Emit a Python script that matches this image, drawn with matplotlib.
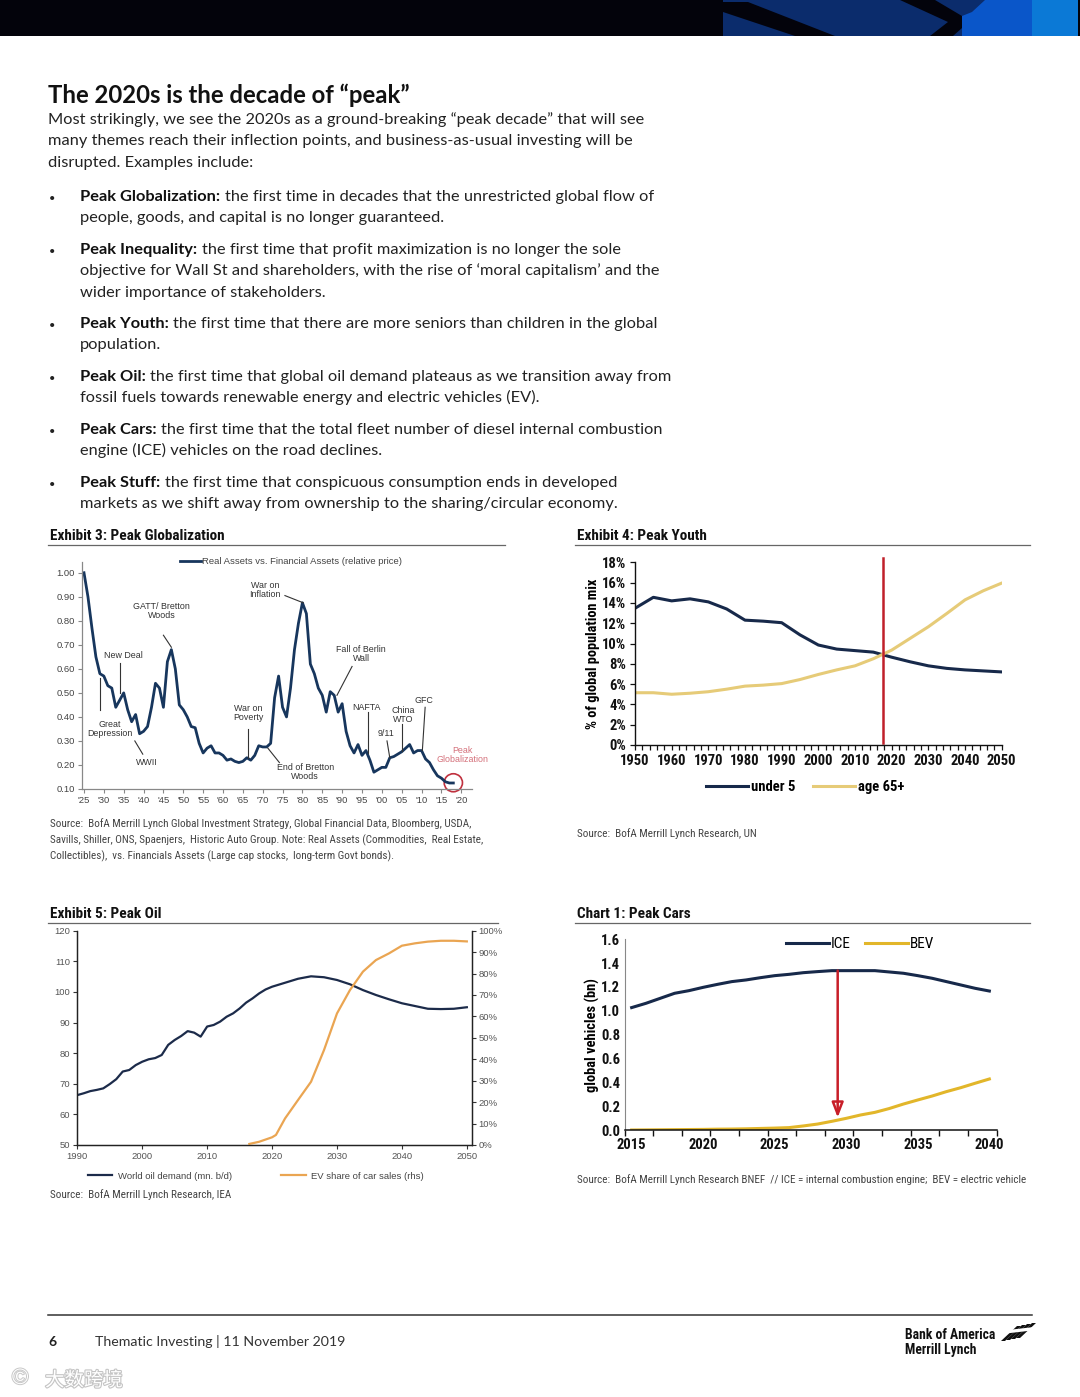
import numpy as np
import matplotlib
matplotlib.use("Agg")
import matplotlib.pyplot as plt
from matplotlib.patches import Polygon, Rectangle, Ellipse
import matplotlib.patheffects as pe

W, H = 1080, 1397

# ---------------- data ----------------
glob_years = list(range(1925, 2019))
glob_vals = [1.00, 0.90, 0.77, 0.65, 0.58, 0.57, 0.53, 0.52, 0.44, 0.47,
             0.50, 0.43, 0.38, 0.41, 0.33, 0.34, 0.36, 0.44, 0.54, 0.52,
             0.44, 0.63, 0.68, 0.60, 0.45, 0.43, 0.40, 0.36, 0.355, 0.29,
             0.25, 0.27, 0.28, 0.25, 0.25, 0.24, 0.22, 0.225, 0.215, 0.21,
             0.215, 0.23, 0.22, 0.24, 0.28, 0.275, 0.275, 0.29, 0.48, 0.57,
             0.44, 0.40, 0.52, 0.68, 0.79, 0.875, 0.83, 0.62, 0.58, 0.52,
             0.49, 0.42, 0.505, 0.49, 0.42, 0.455, 0.34, 0.28, 0.25, 0.285,
             0.24, 0.26, 0.22, 0.17, 0.18, 0.19, 0.19, 0.23, 0.235, 0.245,
             0.255, 0.27, 0.285, 0.25, 0.26, 0.26, 0.225, 0.21, 0.18, 0.155,
             0.145, 0.13, 0.125, 0.125]

youth_years = list(range(1950, 2051, 5))
under5 = [13.47, 14.55, 14.2, 14.4, 14.1, 13.4, 12.3, 12.2, 12.05, 10.85, 9.85,
          9.45, 9.3, 9.15, 8.65, 8.2, 7.8, 7.55, 7.4, 7.3, 7.2]
age65 = [5.15, 5.15, 5.0, 5.1, 5.25, 5.5, 5.8, 5.9, 6.05, 6.45, 6.95,
         7.4, 7.8, 8.5, 9.35, 10.5, 11.65, 12.95, 14.3, 15.2, 15.95]
peak_youth_year = 2017.7

oil_years = list(range(1990, 2021)) + list(range(2022, 2051, 2))
oil_demand = [66.3, 66.9, 67.6, 68.0, 68.5, 69.9, 71.5, 74.0, 74.5, 76.1,
              77.2, 78.0, 78.4, 79.4, 82.7, 84.3, 85.6, 87.2, 86.7, 85.4,
              88.7, 89.2, 90.3, 91.9, 93.0, 94.6, 96.5, 97.9, 99.5, 100.8, 101.7,
              103.0, 104.3, 105.1, 104.8, 103.9, 102.5, 100.6, 99.0, 97.6, 96.3,
              95.4, 94.5, 94.4, 94.5, 95.0]
ev_years = [2016.5, 2018, 2020, 2020.6, 2022, 2024, 2026, 2028, 2030, 2032,
            2034, 2036, 2038, 2040, 2042, 2044, 2046, 2048, 2050]
ev_share = [0.5, 1.5, 3.6, 4.7, 12.4, 21, 29.5, 44.3, 61.4, 72.3,
            80.9, 86.3, 89.4, 93.0, 94.1, 94.9, 95.3, 95.3, 95.0]

car_years = list(range(2015, 2041))
ice = [1.027, 1.063, 1.105, 1.147, 1.169, 1.197, 1.222, 1.245, 1.259, 1.278,
       1.295, 1.306, 1.320, 1.329, 1.337, 1.337, 1.337, 1.337, 1.326, 1.315,
       1.295, 1.273, 1.245, 1.217, 1.189, 1.166]
bev = [0.0, 0.001, 0.002, 0.003, 0.004, 0.005, 0.007, 0.008, 0.010, 0.013,
       0.016, 0.02, 0.034, 0.05, 0.073, 0.098, 0.126, 0.148, 0.18, 0.218,
       0.252, 0.285, 0.322, 0.355, 0.392, 0.428]
peak_car_year = 2029.4

NARROW = ["Liberation Sans Narrow", "DejaVu Sans Condensed", "Roboto Condensed", "Lato", "DejaVu Sans"]
BODY = ["Lato", "DejaVu Sans"]
ARIAL = ["Liberation Sans", "DejaVu Sans"]

fig = plt.figure(figsize=(W / 100, H / 100), dpi=100)
fig.patch.set_facecolor("white")

# page-level drawing axes in pixel coords
bg = fig.add_axes([0, 0, 1, 1])
bg.set_xlim(0, W)
bg.set_ylim(H, 0)
bg.axis("off")


def ptext(x, y, s, **kw):
    return bg.text(x, y, s, **kw)


# header band
bg.add_patch(Rectangle((0, 0), W, 36, color="#03030b", lw=0))
bg.add_patch(Rectangle((723, 0), 240, 36, color="#0b2c6c", lw=0))
bg.add_patch(Polygon([(723, 2), (748, 2), (835, 36), (795, 36), (723, 12)], color="#03030b", lw=0))
bg.add_patch(Polygon([(900, 0), (935, 0), (962, 16), (962, 28), (953, 36), (930, 36), (948, 22)], color="#03030b", lw=0))
bg.add_patch(Rectangle((962, 0), 70, 36, color="#0a56c9", lw=0))
bg.add_patch(Polygon([(962, 0), (985, 0), (972, 12), (962, 16)], color="#0b2c6c", lw=0))
bg.add_patch(Rectangle((1032, 0), 46, 36, color="#0b79d6", lw=0))

# title and body
BFS = 11.8
ptext(48, 103, "The 2020s is the decade of \u201cpeak\u201d", fontsize=17.2, fontweight="bold",
      family=BODY, color="#111111", va="baseline")
para = ["Most strikingly, we see the 2020s as a ground-breaking \u201cpeak decade\u201d that will see",
        "many themes reach their inflection points, and business-as-usual investing will be",
        "disrupted. Examples include:"]
for i, line in enumerate(para):
    ptext(48, 124 + i * 21.3, line, fontsize=BFS, family=BODY, color="#222222", va="baseline")

bullets = [
    ("Peak Globalization:", ["the first time in decades that the unrestricted global flow of",
                             "people, goods, and capital is no longer guaranteed."], 201),
    ("Peak Inequality:", ["the first time that profit maximization is no longer the sole",
                          "objective for Wall St and shareholders, with the rise of \u2018moral capitalism\u2019 and the",
                          "wider importance of stakeholders."], 254),
    ("Peak Youth:", ["the first time that there are more seniors than children in the global",
                     "population."], 328),
    ("Peak Oil:", ["the first time that global oil demand plateaus as we transition away from",
                   "fossil fuels towards renewable energy and electric vehicles (EV)."], 381),
    ("Peak Cars:", ["the first time that the total fleet number of diesel internal combustion",
                    "engine (ICE) vehicles on the road declines."], 434),
    ("Peak Stuff:", ["the first time that conspicuous consumption ends in developed",
                     "markets as we shift away from ownership to the sharing/circular economy."], 487),
]
for head, lines, y0 in bullets:
    ptext(49, y0 + 1, "\u2022", fontsize=8, family=BODY, color="#222222", va="baseline")
    b = ptext(80, y0, head, fontsize=BFS, fontweight="bold", family=BODY, color="#111111", va="baseline")
    bg.annotate(lines[0], xy=(1, 0), xycoords=b, xytext=(3.2, 0), textcoords="offset points",
                fontsize=BFS, family=BODY, color="#222222", va="bottom", ha="left")
    for j, line in enumerate(lines[1:]):
        ptext(80, y0 + (j + 1) * 21.3, line, fontsize=BFS, family=BODY, color="#222222", va="baseline")

# exhibit headers
for x0, x1, y, label in [(48, 505, 540, "Exhibit 3: Peak Globalization"),
                         (575, 1030, 540, "Exhibit 4: Peak Youth"),
                         (48, 498, 918, "Exhibit 5: Peak Oil"),
                         (575, 1030, 918, "Chart 1: Peak Cars")]:
    ptext(x0 + 2, y, label, fontsize=11, fontweight="bold", family=NARROW, color="#111111", va="baseline")
    bg.plot([x0, x1], [y + 4.5, y + 4.5], color="#666666", lw=0.9)

SRC = dict(fontsize=8.0, family=NARROW, color="#444444", va="baseline")
ptext(50, 827, "Source:  BofA Merrill Lynch Global Investment Strategy, Global Financial Data, Bloomberg, USDA,", **SRC)
ptext(50, 843, "Savills, Shiller, ONS, Spaenjers,  Historic Auto Group. Note: Real Assets (Commodities,  Real Estate,", **SRC)
ptext(50, 859, "Collectibles),  vs. Financials Assets (Large cap stocks,  long-term Govt bonds).", **SRC)
ptext(577, 837, "Source:  BofA Merrill Lynch Research, UN", **SRC)
ptext(50, 1198, "Source:  BofA Merrill Lynch Research, IEA", **SRC)
ptext(577, 1183, "Source:  BofA Merrill Lynch Research BNEF  // ICE = internal combustion engine;  BEV = electric vehicle", **SRC)

# footer
bg.plot([48, 1032], [1315, 1315], color="#333333", lw=1.1)
ptext(48, 1346, "6", fontsize=10, fontweight="bold", family=BODY, color="#222222", va="baseline")
ptext(95, 1346, "Thematic Investing | 11 November 2019", fontsize=10.2, family=BODY, color="#333333", va="baseline")
ptext(905, 1339, "Bank of America", fontsize=9.8, fontweight="bold", family=NARROW, color="#111111", va="baseline")
ptext(905, 1354, "Merrill Lynch", fontsize=9.8, fontweight="bold", family=NARROW, color="#111111", va="baseline")
for k in range(4):
    dx = k * 5.0
    bg.add_patch(Polygon([(1001 + dx, 1341 - k), (1005 + dx, 1341 - k), (1021 + dx, 1326 - k), (1017 + dx, 1326 - k)],
                         color="#111111", lw=0))
bg.add_patch(Polygon([(1008, 1330), (1034, 1327), (1032, 1330.5), (1006, 1333.5)], color="white", lw=0))
wm = ptext(45, 1386, "大数跨境", fontsize=14, family=["Noto Sans CJK SC", "DejaVu Sans"],
           color="white", va="baseline")
wm.set_path_effects([pe.withStroke(linewidth=1.6, foreground="#c4c4c4")])
c = ptext(12, 1384, "\u00a9", fontsize=16, family=ARIAL, color="white", va="baseline")
c.set_path_effects([pe.withStroke(linewidth=1.4, foreground="#c8c8c8")])


def fax(x0, y0, x1, y1):
    return fig.add_axes([x0 / W, 1 - y1 / H, (x1 - x0) / W, (y1 - y0) / H])


# ---------------- Exhibit 3: Peak Globalization ----------------
ax = fax(82, 561.7, 472, 789)
ax.plot(glob_years, glob_vals, color="#17365d", lw=2.0, label="Real Assets vs. Financial Assets (relative price)")
ax.set_xlim(1924.5, 2022.7)
ax.set_ylim(0.10, 1.046)
ax.set_yticks(np.arange(0.1, 1.01, 0.1))
ax.set_yticklabels([f"{v:.2f}" for v in np.arange(0.1, 1.01, 0.1)])
gx = list(range(1925, 2021, 5))
ax.set_xticks(gx)
ax.set_xticklabels([f"'{y % 100:02d}" for y in gx])
for s in ["top", "right"]:
    ax.spines[s].set_visible(False)
for s in ["left", "bottom"]:
    ax.spines[s].set_color("#888888")
    ax.spines[s].set_linewidth(0.9)
ax.tick_params(labelsize=6.8, colors="#888888", labelcolor="#444444", length=3, width=0.8, pad=2)
for lab in ax.get_xticklabels() + ax.get_yticklabels():
    lab.set_family(ARIAL)
ax.legend(loc="center", bbox_to_anchor=(0.536, 0.999), frameon=False,
          handlelength=2.2, handletextpad=0.1, prop={"family": ARIAL, "size": 6.8})
for t in ax.get_legend().get_texts():
    t.set_color("#444444")
ANN = dict(fontsize=6.4, family=ARIAL, color="#333333", ha="center", va="center", linespacing=1.0)
notes = [("GATT/ Bretton\nWoods", 1944.6, 0.84, [(1945.0, 0.74), (1947.0, 0.69)]),
         ("New Deal", 1935.0, 0.655, [(1934.0, 0.625), (1934.0, 0.50)]),
         ("Great\nDepression", 1931.5, 0.35, [(1929.0, 0.56), (1929.0, 0.43)]),
         ("WWII", 1940.8, 0.21, [(1937.8, 0.30), (1939.8, 0.245)]),
         ("War on\nPoverty", 1966.3, 0.415, [(1966.3, 0.35), (1966.3, 0.23)]),
         ("End of Bretton\nWoods", 1980.7, 0.17, [(1971.3, 0.27), (1974.2, 0.21)]),
         ("War on\nInflation", 1970.6, 0.93, [(1975.6, 0.905), (1980.2, 0.875)]),
         ("Fall of Berlin\nWall", 1994.8, 0.66, [(1992.5, 0.61), (1988.7, 0.49)]),
         ("NAFTA", 1996.2, 0.44, [(1996.5, 0.42), (1996.5, 0.25)]),
         ("China\nWTO", 2005.4, 0.41, [(2005.0, 0.37), (2005.0, 0.26)]),
         ("GFC", 2010.6, 0.47, [(2010.9, 0.44), (2010.2, 0.26)]),
         ("9/11", 2001.0, 0.33, [(2001.3, 0.30), (2002.0, 0.23)])]
for txt, tx, ty, seg in notes:
    ax.text(tx, ty, txt, **ANN)
    ax.plot([seg[0][0], seg[1][0]], [seg[0][1], seg[1][1]], color="#333333", lw=0.8)
ax.text(2020.3, 0.24, "Peak\nGlobalization", fontsize=6.4, family=ARIAL, color="#d4707a",
        ha="center", va="center", linespacing=1.0)
ax.add_patch(Ellipse((2018.0, 0.126), 4.6, 0.075, fill=False,
                     edgecolor="#c0303e", lw=1.2, clip_on=False))

# ---------------- Exhibit 4: Peak Youth ----------------
ax = fax(635, 562.3, 1001.7, 745)
ax.plot(youth_years, under5, color="#17294a", lw=2.2, label="under 5")
ax.plot(youth_years, age65, color="#e6cb78", lw=2.2, label="age 65+")
ax.plot([peak_youth_year, peak_youth_year], [0.15, 18.4], color="#c0202a", lw=1.8, clip_on=False)
ax.set_xlim(1950, 2050)
ax.set_ylim(0, 18)
ax.set_yticks(range(0, 19, 2))
ax.set_yticklabels([f"{v}%" for v in range(0, 19, 2)])
ax.set_xticks(range(1950, 2051, 10))
ax.set_xticks(range(1950, 2051, 2), minor=True)
for s in ["top", "right"]:
    ax.spines[s].set_visible(False)
for s in ["left", "bottom"]:
    ax.spines[s].set_color("#111111")
    ax.spines[s].set_linewidth(1.0)
ax.tick_params(which="both", length=3.5, width=0.9, colors="#111111", labelsize=10.5, pad=3)
for lab in ax.get_xticklabels() + ax.get_yticklabels():
    lab.set_family(NARROW)
    lab.set_fontweight("bold")
ax.set_ylabel("% of global population mix", fontsize=10.3, fontweight="bold", family=NARROW, labelpad=1)
ax.legend(loc="center", bbox_to_anchor=(0.464, -0.228), ncol=2, frameon=False,
          handlelength=2.9, handletextpad=0.2, columnspacing=1.2,
          prop={"family": NARROW, "weight": "bold", "size": 10.5})

# ---------------- Exhibit 5: Peak Oil ----------------
ax = fax(77.3, 930.7, 471.7, 1145)
l1, = ax.plot(oil_years, oil_demand, color="#1c2b4a", lw=1.6, label="World oil demand (mn. b/d)")
ax.set_xlim(1990, 2050.75)
ax.set_ylim(50, 120)
ax.set_yticks(range(50, 121, 10))
ax.set_xticks(range(1990, 2051, 10))
ax2 = ax.twinx()
l2, = ax2.plot(ev_years, ev_share, color="#eaa552", lw=1.6, label="EV share of car sales (rhs)")
ax2.set_ylim(0, 100)
ax2.set_yticks(range(0, 101, 10))
ax2.set_yticklabels([f"{v}%" for v in range(0, 101, 10)])
for a in (ax, ax2):
    a.spines["top"].set_visible(False)
    for s in ["left", "bottom", "right"]:
        a.spines[s].set_color("#222222")
        a.spines[s].set_linewidth(0.9)
    a.tick_params(labelsize=6.8, colors="#333333", labelcolor="#555555", length=3, width=0.8, pad=2)
    for lab in a.get_xticklabels() + a.get_yticklabels():
        lab.set_family(ARIAL)
ax.legend(handles=[l1, l2], loc="center", bbox_to_anchor=(0.453, -0.145), ncol=2, frameon=False,
          handlelength=2.6, handletextpad=0.6, columnspacing=5.2,
          prop={"family": ARIAL, "size": 6.8})
for t in ax.get_legend().get_texts():
    t.set_color("#444444")

# ---------------- Chart 1: Peak Cars ----------------
ax = fax(624.5, 939.3, 996.5, 1130)
ax.plot(car_years, ice, color="#17294a", lw=2.2, label="ICE")
ax.plot(car_years, bev, color="#e2b62a", lw=2.2, label="BEV")
ice_peak = max(ice)
ax.annotate("", xy=(peak_car_year, 0.105), xytext=(peak_car_year, ice_peak),
            arrowprops=dict(arrowstyle="-|>,head_length=0.9,head_width=0.35", color="#c81e28",
                            lw=1.8, shrinkA=0, shrinkB=0, fill=False))
ax.set_xlim(2014.5, 2040.5)
ax.set_ylim(0, 1.6)
ax.set_yticks(np.arange(0, 1.61, 0.2))
ax.set_yticklabels([f"{v:.1f}" for v in np.arange(0, 1.61, 0.2)])
ax.set_xticks(range(2015, 2041, 5))
ax.set_xticks(np.arange(2014.5, 2041, 2), minor=True)
ax.tick_params(axis="x", which="major", length=0, pad=6)
ax.tick_params(axis="x", which="minor", length=4, width=1.0, colors="#111111")
ax.tick_params(axis="y", length=0, pad=3)
ax.tick_params(labelsize=10.5, labelcolor="#111111")
for s in ["top", "right"]:
    ax.spines[s].set_visible(False)
ax.spines["left"].set_color("#888888")
ax.spines["bottom"].set_color("#111111")
ax.spines["bottom"].set_linewidth(1.1)
for lab in ax.get_xticklabels() + ax.get_yticklabels():
    lab.set_family(NARROW)
    lab.set_fontweight("bold")
ax.set_ylabel("global vehicles (bn)", fontsize=10.4, fontweight="bold", family=NARROW, labelpad=1)
ax.legend(loc="center", bbox_to_anchor=(0.633, 0.975), ncol=2, frameon=False,
          handlelength=2.8, handletextpad=0.1, columnspacing=1.0,
          prop={"family": NARROW, "size": 11})

fig.savefig("out.png", dpi=100)
